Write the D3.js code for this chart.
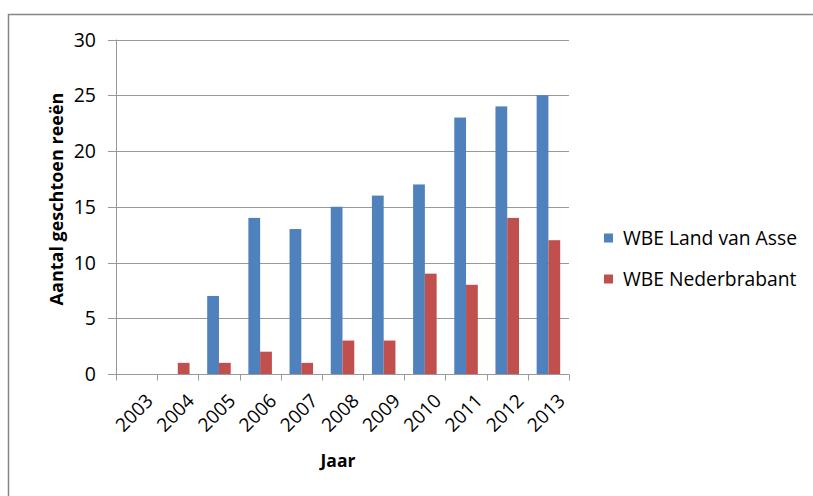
<!DOCTYPE html>
<html>
<head>
<meta charset="utf-8">
<script src="https://cdn.jsdelivr.net/npm/d3@7"></script>
<style>
  body { margin: 0; background: #fff; }
  svg { font-family: "Open Sans", sans-serif; }
  .axis text { fill: #000; }
</style>
</head>
<body>
<div id="chart"></div>
<script>
const years = ["2003", "2004", "2005", "2006", "2007", "2008", "2009", "2010", "2011", "2012", "2013"];
const landVanAsse = [0, 0, 7, 14, 13, 15, 16, 17, 23, 24, 25];
const nederbrabant = [0, 1, 1, 2, 1, 3, 3, 9, 8, 14, 12];
const seriesNames = ["WBE Land van Asse", "WBE Nederbrabant"];
const colors = ["#4F81BD", "#C0504D"];
const yTicks = [0, 5, 10, 15, 20, 25, 30];

const width = 813, height = 496;
const margin = { top: 39.5, right: 244, bottom: 122, left: 116 };

const svg = d3.select("#chart").append("svg")
  .attr("width", width).attr("height", height);

// outer frame (only left and top edges visible)
svg.append("path")
  .attr("d", "M8.5,496V14.5H813")
  .attr("fill", "none")
  .attr("stroke", "#868686")
  .attr("stroke-width", 1.5);

const x = d3.scaleBand()
  .domain(years)
  .range([margin.left, width - margin.right]);

const y = d3.scaleLinear()
  .domain([0, 30])
  .range([height - margin.bottom, margin.top]);

const barW = x.bandwidth() / 3.5;

// gridlines
svg.append("g")
  .selectAll("line")
  .data(yTicks)
  .join("line")
  .attr("x1", margin.left - 8)
  .attr("x2", width - margin.right)
  .attr("y1", (d) => Math.round(y(d)) + 0.5)
  .attr("y2", (d) => Math.round(y(d)) + 0.5)
  .attr("stroke", "#989898");

// y axis labels
svg.append("g")
  .attr("class", "axis")
  .selectAll("text")
  .data(yTicks)
  .join("text")
  .attr("x", margin.left - 20)
  .attr("y", (d) => y(d))
  .attr("dy", "0.36em")
  .attr("text-anchor", "end")
  .attr("font-size", 19.5)
  .attr("fill", "#000")
  .text((d) => d);

// bars
const series = [landVanAsse, nederbrabant];
series.forEach((vals, si) => {
  svg.append("g")
    .selectAll("rect")
    .data(vals.map((v, i) => ({ year: years[i], value: v })).filter((d) => d.value > 0))
    .join("rect")
    .attr("x", (d) => x(d.year) + x.bandwidth() / 2 - barW + si * barW)
    .attr("width", barW)
    .attr("y", (d) => y(d.value))
    .attr("height", (d) => y(0) - y(d.value))
    .attr("fill", colors[si]);
});

// y axis line
svg.append("line")
  .attr("x1", margin.left + 0.5).attr("x2", margin.left + 0.5)
  .attr("y1", margin.top).attr("y2", y(0))
  .attr("stroke", "#989898");

// x axis
const gx = svg.append("g")
  .attr("class", "axis")
  .attr("transform", `translate(0,${Math.round(y(0)) + 0.5})`);
gx.append("line")
  .attr("x1", margin.left).attr("x2", width - margin.right)
  .attr("stroke", "#989898");
gx.selectAll(".tick")
  .data(years.concat(["end"]))
  .join("line")
  .attr("class", "tick")
  .attr("x1", (d, i) => Math.round(margin.left + i * x.step()) + 0.5)
  .attr("x2", (d, i) => Math.round(margin.left + i * x.step()) + 0.5)
  .attr("y1", 0).attr("y2", 6)
  .attr("stroke", "#989898");
gx.selectAll("text")
  .data(years)
  .join("text")
  .attr("transform", (d) => `translate(${x(d) + x.bandwidth() / 2 + 8},18) rotate(-45)`)
  .attr("text-anchor", "end")
  .attr("dy", "0.72em")
  .attr("font-size", 19)
  .attr("fill", "#000")
  .text((d) => d);

// axis titles
svg.append("text")
  .attr("transform", `translate(63,199) rotate(-90)`)
  .attr("text-anchor", "middle")
  .attr("font-size", 18)
  .attr("font-weight", "bold")
  .text("Aantal geschtoen reeën");

svg.append("text")
  .attr("x", 338)
  .attr("y", 467)
  .attr("text-anchor", "middle")
  .attr("font-size", 17.5)
  .attr("font-weight", "bold")
  .text("Jaar");

// legend
const legend = svg.append("g")
  .selectAll("g")
  .data(seriesNames)
  .join("g")
  .attr("transform", (d, i) => `translate(604,${238 + i * 41})`);
legend.append("rect")
  .attr("y", -4.5)
  .attr("width", 9).attr("height", 9)
  .attr("fill", (d, i) => colors[i]);
legend.append("text")
  .attr("x", 19)
  .attr("dy", "0.36em")
  .attr("font-size", 19.3)
  .attr("fill", "#000")
  .text((d) => d);
</script>
</body>
</html>
